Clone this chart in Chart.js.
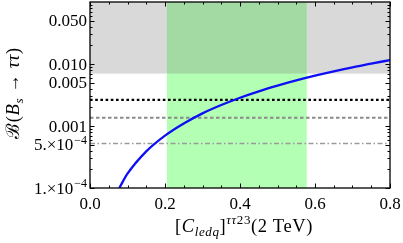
<!DOCTYPE html>
<html>
<head>
<meta charset="utf-8">
<script src="https://cdn.jsdelivr.net/npm/chart.js@4.4.1/dist/chart.umd.min.js"></script>
<style>
html,body{margin:0;padding:0;background:#fff;}
canvas{display:block;}
</style>
</head>
<body>
<canvas id="c" width="403" height="243"></canvas>
<script>
// ---- data ----
const xRange = [0, 0.8];
const yRange = [1e-4, 0.1];
const couplingC = [0.078, 0.1, 0.15, 0.2, 0.25, 0.3, 0.35, 0.4, 0.45, 0.5, 0.55, 0.6, 0.65, 0.7, 0.75, 0.8];
const branchingBR = [1.0e-4, 1.7e-4, 3.9e-4, 7.0e-4, 1.10e-3, 1.60e-3, 2.18e-3, 2.86e-3, 3.63e-3, 4.48e-3, 5.43e-3, 6.47e-3, 7.60e-3, 8.83e-3, 1.01e-2, 1.16e-2];
const excludedAbove = 0.007;          // gray region lower edge
const greenBand = [0.205, 0.578];     // allowed coupling range
const limitBlackDotted = 2.63e-3;
const limitGrayDashed = 1.36e-3;
const limitGrayDashDot = 5.2e-4;
const xTicks = [0, 0.2, 0.4, 0.6, 0.8];
const xTickLabels = ['0.0', '0.2', '0.4', '0.6', '0.8'];
const xMinorTicks = [0.05,0.1,0.15,0.25,0.3,0.35,0.45,0.5,0.55,0.65,0.7,0.75];
const yTicks = [1e-4, 5e-4, 1e-3, 5e-3, 1e-2, 5e-2];
const yTickMantissa = ['1.\u00d710', '5.\u00d710', '0.001', '0.005', '0.010', '0.050'];
const yTickExponent = ['\u22124', '\u22124', '', '', '', ''];
const yMinorTicks = [2e-4,3e-4,4e-4,6e-4,7e-4,8e-4,9e-4,2e-3,3e-3,4e-3,6e-3,7e-3,8e-3,9e-3,2e-2,3e-2,4e-2,6e-2,7e-2,8e-2,9e-2];

const SERIF = '"Liberation Serif", "DejaVu Serif", serif';
const FS = 17;     // tick labels
const TS = 18.5;   // axis titles
const SS = 13;     // sub/superscripts in titles

const curve = couplingC.map((c, i) => ({x: c, y: branchingBR[i]}));
const hline = v => [{x: xRange[0], y: v}, {x: xRange[1], y: v}];

const decorPlugin = {
  id: 'decor',
  beforeDatasetsDraw(chart) {
    const {ctx, chartArea: a, scales: {x, y}} = chart;
    const yg = y.getPixelForValue(excludedAbove);
    const x0 = x.getPixelForValue(greenBand[0]);
    const x1 = x.getPixelForValue(greenBand[1]);
    ctx.save();
    ctx.fillStyle = '#d9d9d9';
    ctx.fillRect(a.left, a.top, a.right - a.left, yg - a.top);
    ctx.fillStyle = '#b3ffb3';
    ctx.fillRect(x0, a.top, x1 - x0, a.bottom - a.top);
    ctx.fillStyle = '#a3d9a3';
    ctx.fillRect(x0, a.top, x1 - x0, yg - a.top);
    ctx.restore();
  },
  afterDatasetsDraw(chart) {
    const {ctx, chartArea: a, scales: {x, y}} = chart;
    ctx.save();
    ctx.strokeStyle = '#000';
    ctx.lineWidth = 1;
    const tick = (px, len, horizontal) => {
      ctx.beginPath();
      if (horizontal) {
        ctx.moveTo(a.left, px); ctx.lineTo(a.left + len, px);
        ctx.moveTo(a.right, px); ctx.lineTo(a.right - len, px);
      } else {
        ctx.moveTo(px, a.bottom); ctx.lineTo(px, a.bottom - len);
        ctx.moveTo(px, a.top); ctx.lineTo(px, a.top + len);
      }
      ctx.stroke();
    };
    xTicks.forEach(v => tick(Math.round(x.getPixelForValue(v)) + 0.5, 4.5, false));
    xMinorTicks.forEach(v => tick(Math.round(x.getPixelForValue(v)) + 0.5, 2.5, false));
    yTicks.forEach(v => tick(Math.round(y.getPixelForValue(v)) + 0.5, 4.5, true));
    yMinorTicks.forEach(v => tick(Math.round(y.getPixelForValue(v)) + 0.5, 2.5, true));
    ctx.lineWidth = 1.3;
    ctx.strokeRect(a.left, a.top, a.right - a.left, a.bottom - a.top);
    ctx.restore();
  },
  afterDraw(chart) {
    const {ctx, chartArea: a, scales: {x, y}} = chart;
    ctx.save();
    ctx.fillStyle = '#000';
    ctx.textBaseline = 'alphabetic';
    // x tick labels
    ctx.textAlign = 'center';
    ctx.font = FS + 'px ' + SERIF;
    xTicks.forEach((v, i) => ctx.fillText(xTickLabels[i], x.getPixelForValue(v), a.bottom + 21));
    // y tick labels
    ctx.textAlign = 'left';
    const rightEdge = a.left - 3;
    yTicks.forEach((v, i) => {
      const py = y.getPixelForValue(v) + 5.5;
      ctx.font = FS + 'px ' + SERIF;
      const wm = ctx.measureText(yTickMantissa[i]).width;
      ctx.font = '12px ' + SERIF;
      const we = yTickExponent[i] ? ctx.measureText(yTickExponent[i]).width + 1 : 0;
      const start = rightEdge - wm - we;
      ctx.font = FS + 'px ' + SERIF;
      ctx.fillText(yTickMantissa[i], start, py);
      if (yTickExponent[i]) {
        ctx.font = '12px ' + SERIF;
        ctx.fillText(yTickExponent[i], start + wm + 1, py - 6.5);
      }
    });
    ctx.letterSpacing = '0.6px';
    // x axis title: [C_ledq]^{ττ23}(2 TeV)
    const parts = [
      {t: '[', f: TS + 'px ' + SERIF, dy: 0},
      {t: 'C', f: 'italic ' + TS + 'px ' + SERIF, dy: 0},
      {t: 'ledq', f: 'italic ' + SS + 'px ' + SERIF, dy: 4},
      {t: ']', f: TS + 'px ' + SERIF, dy: 0},
      {t: '\u03c4\u03c4', f: 'italic ' + SS + 'px ' + SERIF, dy: -8},
      {t: '23', f: SS + 'px ' + SERIF, dy: -8},
      {t: '(2 TeV)', f: TS + 'px ' + SERIF, dy: 0}
    ];
    let total = 0;
    parts.forEach(p => { ctx.font = p.f; p.w = ctx.measureText(p.t).width; total += p.w; });
    let cx = 244 - total / 2;
    const by = 232;
    parts.forEach(p => { ctx.font = p.f; ctx.fillText(p.t, cx, by + p.dy); cx += p.w; });
    // y axis title: ℬ(B_s → ττ)
    const yparts = [
      {t: '\u212c', f: TS + 'px ' + SERIF, dy: 0},
      {t: '(', f: TS + 'px ' + SERIF, dy: 0},
      {t: 'B', f: 'italic ' + TS + 'px ' + SERIF, dy: 0},
      {t: 's', f: 'italic ' + SS + 'px ' + SERIF, dy: 4},
      {t: ' \u2192 ', f: TS + 'px ' + SERIF, dy: 0},
      {t: '\u03c4\u03c4', f: 'italic ' + TS + 'px ' + SERIF, dy: 0},
      {t: ')', f: TS + 'px ' + SERIF, dy: 0}
    ];
    total = 0;
    yparts.forEach(p => { ctx.font = p.f; p.w = ctx.measureText(p.t).width; total += p.w; });
    ctx.translate(19, 93);
    ctx.rotate(-Math.PI / 2);
    cx = -total / 2;
    yparts.forEach(p => { ctx.font = p.f; ctx.fillText(p.t, cx, p.dy); cx += p.w; });
    ctx.restore();
  }
};

new Chart(document.getElementById('c'), {
  type: 'line',
  data: {
    datasets: [
      {label: 'B(Bs→ττ)', data: curve, borderColor: '#0f0ff5', borderWidth: 2.3, pointRadius: 0,
       cubicInterpolationMode: 'monotone', fill: false},
      {label: 'limit 1', data: hline(limitBlackDotted), borderColor: '#000', borderWidth: 2.2,
       borderDash: [2.6, 2.6], pointRadius: 0, fill: false},
      {label: 'limit 2', data: hline(limitGrayDashed), borderColor: '#8a8a8a', borderWidth: 2,
       borderDash: [3.5, 2.5], pointRadius: 0, fill: false},
      {label: 'limit 3', data: hline(limitGrayDashDot), borderColor: '#9a9a9a', borderWidth: 1.5,
       borderDash: [5, 2.5, 1.5, 2.5], pointRadius: 0, fill: false}
    ]
  },
  options: {
    responsive: false,
    animation: false,
    devicePixelRatio: 1,
    layout: {padding: {top: 2, right: 13, left: 0, bottom: 0}},
    plugins: {legend: {display: false}, tooltip: {enabled: false}},
    scales: {
      x: {
        type: 'linear', min: xRange[0], max: xRange[1],
        grid: {display: false}, border: {display: false},
        ticks: {display: false},
        afterFit(s) { s.height = 55; }
      },
      y: {
        type: 'logarithmic', min: yRange[0], max: yRange[1],
        grid: {display: false}, border: {display: false},
        ticks: {display: false},
        afterFit(s) { s.width = 90; }
      }
    }
  },
  plugins: [decorPlugin]
});
</script>
</body>
</html>
